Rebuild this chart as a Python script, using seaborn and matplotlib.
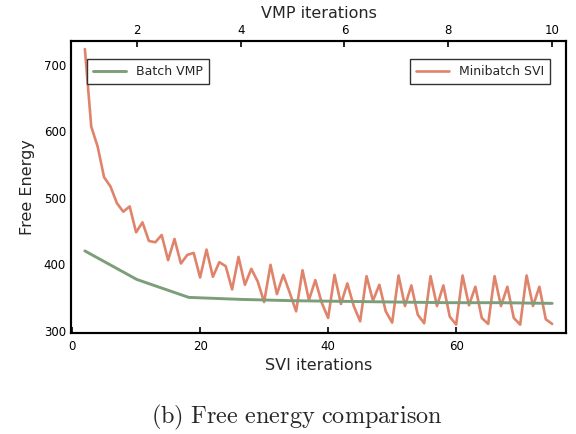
import numpy as np
import pandas as pd
import matplotlib
matplotlib.use("Agg")
import matplotlib.pyplot as plt
import seaborn as sns

# SVI iterations (bottom axis) and free energy per iteration
svi_iter = list(range(2, 76))
svi_energy = [724, 607, 577, 531, 517, 492, 479, 487, 448, 463,
              435, 433, 444, 406, 438, 401, 414, 417, 380, 422,
              381, 403, 397, 362, 411, 369, 393, 374, 343, 399,
              355, 384, 357, 329, 391, 346, 376, 342, 319, 384,
              340, 371, 337, 314, 382, 345, 369, 329, 312, 383,
              337, 368, 324, 311, 382, 337, 368, 321, 309, 383,
              338, 366, 319, 310, 382, 337, 366, 319, 309, 383,
              337, 366, 317, 310]

# VMP iterations (top axis)
vmp_iter = [1, 2, 3, 4, 5, 6, 7, 8, 9, 10]
vmp_energy = [420, 377, 350, 347, 345, 344, 343, 342, 342, 341]

svi_color = "#e0836b"
vmp_color = "#7c9e78"

sns.set_style("white")
plt.rcParams["mathtext.fontset"] = "cm"

fig, ax = plt.subplots(figsize=(5.76, 4.34), dpi=100)
fig.subplots_adjust(left=0.123, right=0.983, top=0.906, bottom=0.233)
ax2 = ax.twiny()

df_svi = pd.DataFrame({"it": svi_iter, "fe": svi_energy})
df_vmp = pd.DataFrame({"it": vmp_iter, "fe": vmp_energy})

sns.lineplot(data=df_svi, x="it", y="fe", ax=ax, color=svi_color, lw=1.9,
             label="Minibatch SVI")
sns.lineplot(data=df_vmp, x="it", y="fe", ax=ax2, color=vmp_color, lw=2.1,
             label="Batch VMP")

# widen limits 3% each side
def widen(lo, hi, f=0.03):
    d = hi - lo
    return lo - f * d, hi + f * d

ax.set_xlim(*widen(min(svi_iter), max(svi_iter)))
ax2.set_xlim(*widen(min(vmp_iter), max(vmp_iter)))
ylo = min(min(svi_energy), min(vmp_energy))
yhi = max(max(svi_energy), max(vmp_energy))
ax.set_ylim(*widen(ylo, yhi))

ax.set_xticks([0, 20, 40, 60])
ax.set_yticks([300, 400, 500, 600, 700])
ax2.set_xticks([2, 4, 6, 8, 10])

ax.set_xlabel("SVI iterations", fontsize=11.5, labelpad=4)
ax.set_ylabel("Free Energy", fontsize=11.5, labelpad=6)
ax2.set_xlabel("VMP iterations", fontsize=11.5, labelpad=4)

for a in (ax, ax2):
    a.tick_params(direction="in", length=4, width=1.2, labelsize=8.5, colors="black")
    for s in a.spines.values():
        s.set_linewidth(1.5)
        s.set_color("black")
ax.tick_params(axis="x", pad=5)
ax2.tick_params(axis="x", pad=3)

leg1 = ax2.legend(loc="upper left", bbox_to_anchor=(0.02, 0.96), fontsize=9,
                  fancybox=False, framealpha=1, edgecolor="#333333",
                  handlelength=2.6, borderpad=0.5)
leg2 = ax.legend(loc="upper right", bbox_to_anchor=(0.98, 0.96), fontsize=9,
                 fancybox=False, framealpha=1, edgecolor="#333333",
                 handlelength=2.6, borderpad=0.5)
leg1.get_frame().set_linewidth(1.0)
leg2.get_frame().set_linewidth(1.0)

fig.text(0.515, 0.039, r"$\mathrm{(b)\ Free\ energy\ comparison}$",
         ha="center", va="center", fontsize=17.5)

plt.savefig("out.png", dpi=100)
